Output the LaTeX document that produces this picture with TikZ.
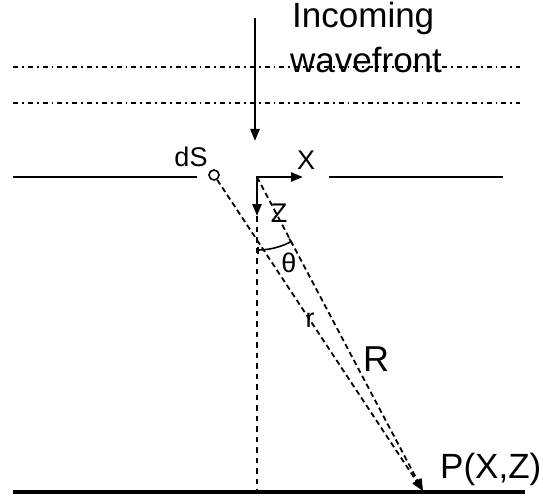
\documentclass[tikz,border=0pt]{standalone}
\usepackage{fontspec}
\setmainfont{Liberation Sans}
\usetikzlibrary{arrows.meta}
\begin{document}
\begin{tikzpicture}[x=1pt,y=-1pt,
  solidline/.style={line width=2.3pt},
  dashdot/.style={line width=1.8pt, dash pattern=on 5pt off 4pt on 1.8pt off 4pt},
  ray/.style={line width=1.8pt, dash pattern=on 5.5pt off 3.5pt, -{Triangle[length=12pt,width=9pt]}},
  tipend/.style={-{Triangle[length=12pt,width=9pt]}},
  lbl/.style={inner sep=0pt},
  bigtext/.style={lbl, font=\fontsize{35}{45}\selectfont},
  smalltext/.style={lbl, font=\fontsize{27}{27}\selectfont}]
\useasboundingbox (0,0) rectangle (543,497);
% coordinates
\coordinate (D1a) at (13,67);  \coordinate (D1b) at (520,67);
\coordinate (D2a) at (13,103); \coordinate (D2b) at (520,103);
\coordinate (inTop) at (255,18); \coordinate (inTip) at (255,141);
\coordinate (L1) at (13,177);  \coordinate (L2) at (197,177);
\coordinate (R1) at (329,177); \coordinate (R2) at (503,177);
\coordinate (B1) at (13,492);  \coordinate (B2) at (525,492);
\coordinate (O) at (257,177);
\coordinate (Xtip) at (303,177);
\coordinate (Ztip) at (257,216);
\coordinate (Vbot) at (257,491);
\coordinate (P) at (423,491);
\coordinate (A1) at (257,250);
% wavefront lines
\draw[dashdot] (D1a) -- (D1b);
\draw[dashdot] (D2a) -- (D2b);
% texts
\node[bigtext, anchor=base west] (inc) at (292,28) {Incoming};
\node[bigtext, anchor=base west] (wav) at (290,73) {wavefront};
% incoming arrow
\draw[solidline, tipend] (inTop) -- (inTip);
% aperture screen
\draw[solidline] (L1) -- (L2);
\draw[solidline] (R1) -- (R2);
% bottom line
\draw[line width=3.2pt] (B1) -- (B2);
% source element
\node[circle, draw, line width=1.6pt, minimum size=10pt, inner sep=0pt] (dS) at (214,175) {};
\node[lbl, font=\fontsize{27}{27}\selectfont] (dSl) at (191,157) {dS};
% axes
\draw[solidline, {Triangle[length=12pt,width=9pt]}-{Triangle[length=12pt,width=9pt]}] (Xtip) -- (O) -- (Ztip);
\node[smalltext] (Xl) at (306,160) {X};
\node[smalltext] (Zl) at (279,213) {Z};
% vertical dashed line
\draw[line width=2.6pt, dash pattern=on 5.5pt off 5pt] (Ztip) -- (Vbot);
% rays
\draw[ray] (O) -- (P);
\draw[ray] (dS) -- (P);
% angle
\draw[line width=1.6pt, {Bar[width=7pt]}-{Bar[width=7pt]}] (A1) arc[start angle=90, end angle=61.7, radius=73];
\node[smalltext] (th) at (289,263) {θ};
\node[smalltext] (rl) at (310,320) {r};
\node[lbl, font=\fontsize{36}{36}\selectfont] (Rl) at (376,359) {R};
\node[bigtext, anchor=base west] (Pl) at (440,478) {P(X,Z)};
\end{tikzpicture}
\end{document}
